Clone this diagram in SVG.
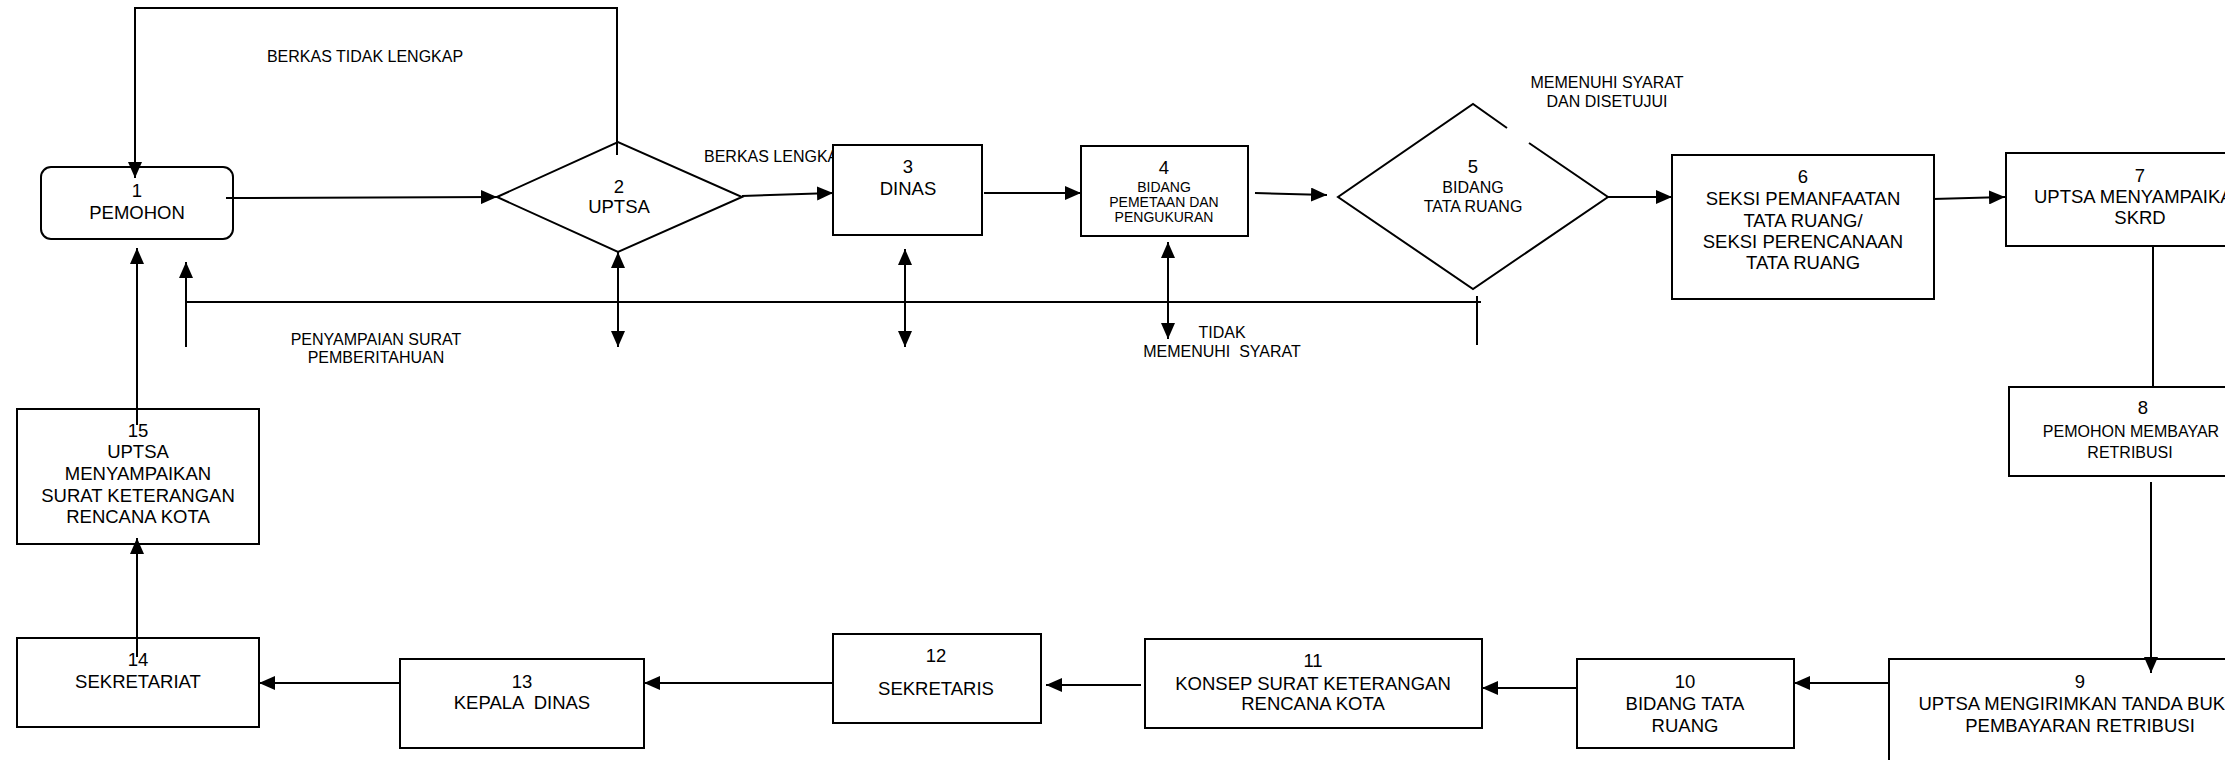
<svg xmlns="http://www.w3.org/2000/svg" width="2225" height="760" viewBox="0 0 2225 760">
<style>
.box{fill:#fff;stroke:#000;stroke-width:2}
.ln{fill:none;stroke:#000;stroke-width:2}
.ar{marker-end:url(#ah)}
.da{marker-start:url(#ah);marker-end:url(#ah)}
text{font-family:"Liberation Sans",Arial,sans-serif;fill:#000;text-anchor:middle}
.n{font-size:18.5px}
.s{font-size:16px}
.xs{font-size:14px}
.lb{font-size:16px}
.st{text-anchor:start}
</style>
<defs>
<marker id="ah" markerUnits="userSpaceOnUse" markerWidth="16" markerHeight="14" refX="16" refY="7" orient="auto-start-reverse"><path d="M0,0 L16,7 L0,14 Z" fill="#000"/></marker>
</defs>
<rect width="2225" height="760" fill="#fff"/>
<g id="labels">
<text class="lb" x="365" y="62">BERKAS TIDAK LENGKAP</text>
<text class="lb st" x="704" y="162">BERKAS LENGKAP</text>
<text class="lb" x="1607" y="88">MEMENUHI SYARAT</text>
<text class="lb" x="1607" y="107">DAN DISETUJUI</text>
<text class="lb" x="376" y="345">PENYAMPAIAN SURAT</text>
<text class="lb" x="376" y="363">PEMBERITAHUAN</text>
<text class="lb" x="1222" y="338">TIDAK</text>
<text class="lb" x="1222" y="357" xml:space="preserve">MEMENUHI  SYARAT</text>
</g>
<g id="node1">
<rect class="box" x="41" y="167" width="192" height="72" rx="10"/>
<text class="n" x="137" y="197">1</text>
<text class="n" x="137" y="219">PEMOHON</text>
</g>
<g id="node2">
<polygon class="box" points="497,197 618,142 742,197 618,252"/>
<text class="n" x="619" y="193">2</text>
<text class="n" x="619" y="213">UPTSA</text>
</g>
<g id="node3">
<rect class="box" x="833" y="145" width="149" height="90"/>
<text class="n" x="908" y="173">3</text>
<text class="n" x="908" y="195">DINAS</text>
</g>
<g id="node4">
<rect class="box" x="1081" y="146" width="167" height="90"/>
<text class="n" x="1164" y="174">4</text>
<text class="xs" x="1164" y="192">BIDANG</text>
<text class="xs" x="1164" y="207">PEMETAAN DAN</text>
<text class="xs" x="1164" y="222">PENGUKURAN</text>
</g>
<g id="node5">
<polygon points="1473,104 1338,197 1473,289 1608,197" fill="#fff"/>
<path class="ln" d="M1507,128 L1473,104 L1338,197 L1473,289 L1608,197 L1529,143"/>
<text class="n" x="1473" y="173">5</text>
<text class="s" x="1473" y="193">BIDANG</text>
<text class="s" x="1473" y="212">TATA RUANG</text>
</g>
<g id="node6">
<rect class="box" x="1672" y="155" width="262" height="144"/>
<text class="n" x="1803" y="183">6</text>
<text class="n" x="1803" y="205">SEKSI PEMANFAATAN</text>
<text class="n" x="1803" y="227">TATA RUANG/</text>
<text class="n" x="1803" y="248">SEKSI PERENCANAAN</text>
<text class="n" x="1803" y="269">TATA RUANG</text>
</g>
<g id="node7">
<rect class="box" x="2006" y="153" width="268" height="93"/>
<text class="n" x="2140" y="182">7</text>
<text class="n" x="2140" y="203">UPTSA MENYAMPAIKAN</text>
<text class="n" x="2140" y="224">SKRD</text>
</g>
<g id="node8">
<rect class="box" x="2009" y="387" width="244" height="89"/>
<text class="n" x="2143" y="414">8</text>
<text class="s" x="2131" y="437">PEMOHON MEMBAYAR</text>
<text class="s" x="2130" y="458">RETRIBUSI</text>
</g>
<g id="node9">
<rect class="box" x="1889" y="659" width="382" height="120"/>
<text class="n" x="2080" y="688">9</text>
<text class="n" x="2080" y="710">UPTSA MENGIRIMKAN TANDA BUKTI</text>
<text class="n" x="2080" y="732">PEMBAYARAN RETRIBUSI</text>
</g>
<g id="node10">
<rect class="box" x="1577" y="659" width="217" height="89"/>
<text class="n" x="1685" y="688">10</text>
<text class="n" x="1685" y="710">BIDANG TATA</text>
<text class="n" x="1685" y="732">RUANG</text>
</g>
<g id="node11">
<rect class="box" x="1145" y="639" width="337" height="89"/>
<text class="n" x="1313" y="667">11</text>
<text class="n" x="1313" y="690">KONSEP SURAT KETERANGAN</text>
<text class="n" x="1313" y="710">RENCANA KOTA</text>
</g>
<g id="node12">
<rect class="box" x="833" y="634" width="208" height="89"/>
<text class="n" x="936" y="662">12</text>
<text class="n" x="936" y="695">SEKRETARIS</text>
</g>
<g id="node13">
<rect class="box" x="400" y="659" width="244" height="89"/>
<text class="n" x="522" y="688">13</text>
<text class="n" x="522" y="709" xml:space="preserve">KEPALA  DINAS</text>
</g>
<g id="node14">
<rect class="box" x="17" y="638" width="242" height="89"/>
<text class="n" x="138" y="666">14</text>
<text class="n" x="138" y="688">SEKRETARIAT</text>
</g>
<g id="node15">
<rect class="box" x="17" y="409" width="242" height="135"/>
<text class="n" x="138" y="437">15</text>
<text class="n" x="138" y="458">UPTSA</text>
<text class="n" x="138" y="480">MENYAMPAIKAN</text>
<text class="n" x="138" y="502">SURAT KETERANGAN</text>
<text class="n" x="138" y="523">RENCANA KOTA</text>
</g>
<g id="connectors">
<polyline class="ln ar" points="617,155 617,8 135,8 135,178"/>
<line class="ln ar" x1="226" y1="198" x2="497" y2="197"/>
<line class="ln ar" x1="742" y1="196" x2="833" y2="193"/>
<line class="ln ar" x1="984" y1="193" x2="1081" y2="193"/>
<line class="ln ar" x1="1255" y1="193" x2="1327" y2="195"/>
<line class="ln ar" x1="1608" y1="197" x2="1672" y2="197"/>
<line class="ln ar" x1="1933" y1="199" x2="2005" y2="197"/>
<line class="ln" x1="2153" y1="247" x2="2153" y2="387"/>
<line class="ln ar" x1="2151" y1="482" x2="2151" y2="673"/>
<line class="ln ar" x1="1889" y1="683" x2="1794" y2="683"/>
<line class="ln ar" x1="1577" y1="688" x2="1482" y2="688"/>
<line class="ln ar" x1="1141" y1="685" x2="1046" y2="685"/>
<line class="ln ar" x1="833" y1="683" x2="644" y2="683"/>
<line class="ln ar" x1="400" y1="683" x2="259" y2="683"/>
<line class="ln ar" x1="137" y1="657" x2="137" y2="538"/>
<line class="ln ar" x1="137" y1="425" x2="137" y2="248"/>
<line class="ln da" x1="618" y1="252" x2="618" y2="347"/>
<line class="ln da" x1="905" y1="249" x2="905" y2="347"/>
<line class="ln da" x1="1168" y1="242" x2="1168" y2="339"/>
<line class="ln" x1="1477" y1="296" x2="1477" y2="345"/>
<line class="ln" x1="186" y1="302" x2="1481" y2="302"/>
<line class="ln ar" x1="186" y1="347" x2="186" y2="262"/>
</g>
</svg>
